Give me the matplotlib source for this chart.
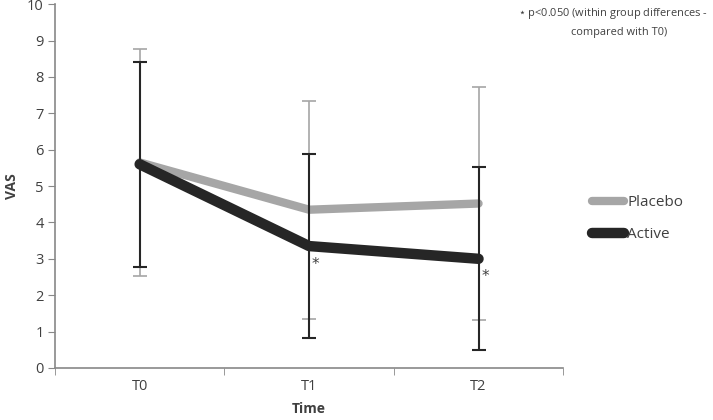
import numpy as np
import matplotlib
matplotlib.use("Agg")
import matplotlib.pyplot as plt

plt.rcParams['font.family'] = ['Open Sans', 'DejaVu Sans']

times = ['T0', 'T1', 'T2']
placebo_mean = [5.65, 4.35, 4.52]
placebo_sd = [3.12, 3.0, 3.2]
active_mean = [5.6, 3.35, 3.0]
active_sd = [2.82, 2.52, 2.52]
sig_points = [1, 2]  # within group p<0.05 (Active)

x = np.arange(len(times))
grey = '#a6a6a6'
dark = '#262626'
txt = '#404040'

fig = plt.figure(figsize=(7.13, 4.2), dpi=100)
ax = fig.add_axes([0.077, 0.124, 0.713, 0.866])

ax.plot(x, placebo_mean, color=grey, lw=6, solid_capstyle='round', zorder=2, label='Placebo')
ax.plot(x, active_mean, color=dark, lw=7.5, solid_capstyle='round', zorder=3, label='Active')
ax.errorbar(x, placebo_mean, yerr=placebo_sd, fmt='none', ecolor=grey, elinewidth=1.2,
            capsize=5, capthick=1.2, zorder=4)
ax.errorbar(x, active_mean, yerr=active_sd, fmt='none', ecolor=dark, elinewidth=1.5,
            capsize=5, capthick=1.5, zorder=5)

for i in sig_points:
    ax.text(x[i] + 0.04, active_mean[i] - 0.5, '*', fontsize=11, color=txt,
            ha='center', va='center', family='DejaVu Sans')

ax.set_xlim(-0.5, 2.5)
ax.set_ylim(0, 10)
ax.set_yticks(range(0, 11))
ax.set_xticks(x)
ax.set_xticklabels(times)
ax.set_xticks([-0.5, 0.5, 1.5, 2.5], minor=True)
ax.tick_params(axis='x', which='major', length=0, pad=8, labelsize=10.5, labelcolor=txt)
ax.tick_params(axis='x', which='minor', length=5, color='#888888', direction='out')
ax.tick_params(axis='y', length=5, color='#888888', labelsize=10.5, labelcolor=txt, pad=3)
for s in ['top', 'right']:
    ax.spines[s].set_visible(False)
for s in ['left', 'bottom']:
    ax.spines[s].set_color('#888888')
    ax.spines[s].set_linewidth(1.2)

ax.set_xlabel('Time', fontsize=10, fontweight='bold', color=txt, labelpad=6)
ax.set_ylabel('VAS', fontsize=10, fontweight='bold', color=txt, labelpad=6)

leg = ax.legend(loc='center left', bbox_to_anchor=(1.03, 0.41), frameon=False, fontsize=11,
                handlelength=2.1, handletextpad=0.2, labelspacing=1.1)
for t in leg.get_texts():
    t.set_color(txt)

fig.text(0.727, 0.968, '$\\star$ p<0.050 (within group differences -', fontsize=7.9, color=txt,
         ha='left', va='center')
fig.text(0.868, 0.922, 'compared with T0)', fontsize=7.9, color=txt, ha='center', va='center')

plt.savefig('out.png', dpi=100)
